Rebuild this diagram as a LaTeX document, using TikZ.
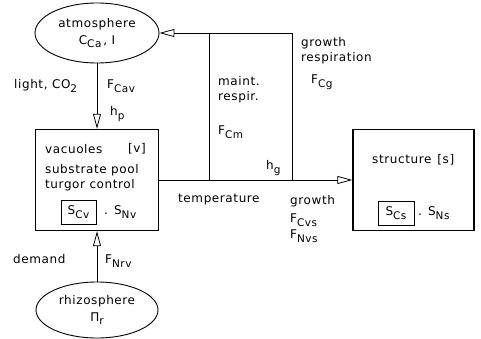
\documentclass[tikz,border=0pt]{standalone}
\usepackage{fontspec}
\setmainfont{DejaVu Sans}[LetterSpace=5]
\usepackage{tikz}
\usetikzlibrary{arrows.meta,shapes.geometric}
\newcommand\sbs[1]{\raisebox{-0.55ex}{\fontsize{10.5}{10.5}\selectfont #1}}
\tikzset{
  % ---- compartments ---------------------------------------------------
  pool/.style={draw, line width=1.4pt, inner sep=0pt,
    minimum width=123pt, minimum height=101pt},
  env/.style={draw, ellipse, line width=0.9pt, inner sep=0pt,
    align=center, font=\fontsize{12}{17}\selectfont},
  state/.style={draw, line width=0.8pt, inner sep=1.5pt,
    minimum width=35pt, minimum height=24pt, font=\fontsize{12}{12}\selectfont},
  % ---- text -----------------------------------------------------------
  lbl/.style={anchor=west, inner sep=0pt, align=left,
    font=\fontsize{12}{15}\selectfont},
  % ---- connections ----------------------------------------------------
  flow/.style={-{Triangle[open, length=15pt, width=8pt]}, line width=0.8pt},
  link/.style={line width=0.8pt},
}
\begin{document}
\begin{tikzpicture}[x=1pt, y=-1pt]
\useasboundingbox (0,0) rectangle (481,339);

% ---- compartments ---------------------------------------------------
\node[env, minimum width=124pt, minimum height=60pt] (atmos) at (97,33)
  {atmosphere\\C\sbs{Ca}\,, I};
\node[pool] (vac) at (97,180) {};
\node[pool, minimum width=121pt] (struct) at (413.5,180) {};
\node[env, minimum width=122pt, minimum height=56pt] (rhizo) at (97,310)
  {rhizosphere\\Π\sbs{r}};

% ---- state variables ------------------------------------------------
\node[state] (scv) at (78.5,212) {S\sbs{Cv}};
\node[lbl] (snv) at (104,212) {.\enspace S\sbs{Nv}};
\node[state, minimum width=36pt] (scs) at (396,213) {S\sbs{Cs}};
\node[lbl] (sns) at (418,213) {.\enspace S\sbs{Ns}};

% ---- box texts -------------------------------------------------------
\node[lbl] (vacname) at (45,149) {vacuoles};
\node[lbl] (vactag)  at (128,149) {[v]};
\node[lbl] (vacrole) at (45,178) {substrate pool\\turgor control};
\node[lbl] (structname) at (372,160) {structure\enspace[s]};

% ---- junctions -------------------------------------------------------
\coordinate (mjoin) at (209,180);
\coordinate (gjoin) at (292,180);

% ---- edges -----------------------------------------------------------
\draw[flow] (atmos.south) -- (vac.north);
\draw[flow] (rhizo.north) -- (vac.south);
\draw[flow] (vac.east) -- (struct.west);
\draw[flow] (gjoin) |- (atmos.east);
\draw[link] (mjoin) -- (mjoin |- atmos.east);

% ---- flux labels -----------------------------------------------------
\node[lbl] (light)  at (14,86)  {light, CO\sbs{2}};
\node[lbl] (fcav)   at (107,86) {F\sbs{Cav}};
\node[lbl] (hp)     at (110,114) {h\sbs{p}};
\node[lbl] (maint)  at (218,90) {maint.\\respir.};
\node[lbl] (fcm)    at (218,132) {F\sbs{Cm}};
\node[lbl] (hg)     at (266,168) {h\sbs{g}};
\node[lbl] (grresp) at (301,51) {growth\\respiration};
\node[lbl] (fcg)    at (311,82) {F\sbs{Cg}};
\node[lbl] (temp)   at (178,200) {temperature};
\node[lbl] (growth) at (290,201) {growth};
\node[lbl] (fcvs)   at (290,220) {F\sbs{Cvs}};
\node[lbl] (fnvs)   at (290,236) {F\sbs{Nvs}};
\node[lbl] (demand) at (13,259) {demand};
\node[lbl] (fnrv)   at (105,261) {F\sbs{Nrv}};

\end{tikzpicture}
\end{document}
